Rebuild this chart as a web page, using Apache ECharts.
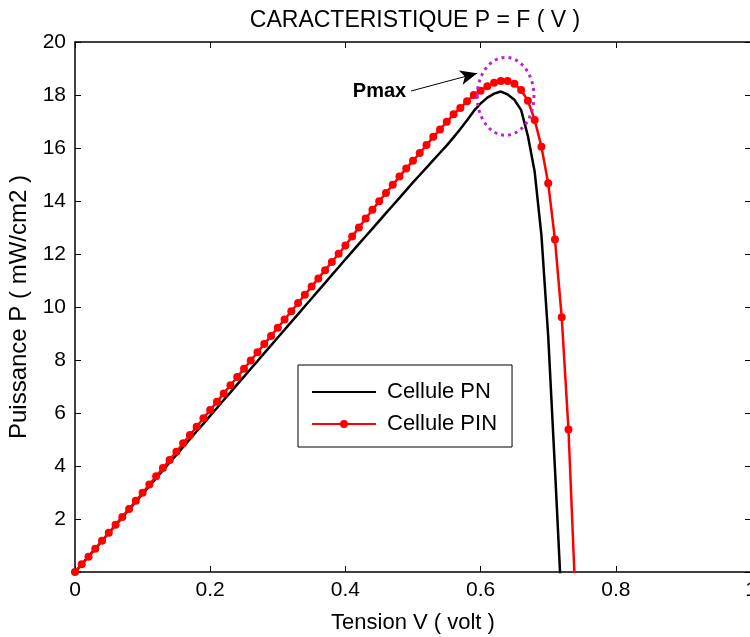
<!DOCTYPE html>
<html>
<head>
<meta charset="utf-8">
<script src="https://cdn.jsdelivr.net/npm/echarts@6/dist/echarts.min.js"></script>
<style>
  html, body { margin: 0; padding: 0; background: #fff; }
  #main { width: 750px; height: 637px; }
</style>
</head>
<body>
<div id="main"></div>
<script>
// Tension (V), pas de 0.01 V
const tension = [
  0.00, 0.01, 0.02, 0.03, 0.04, 0.05, 0.06, 0.07, 0.08, 0.09,
  0.10, 0.11, 0.12, 0.13, 0.14, 0.15, 0.16, 0.17, 0.18, 0.19,
  0.20, 0.21, 0.22, 0.23, 0.24, 0.25, 0.26, 0.27, 0.28, 0.29,
  0.30, 0.31, 0.32, 0.33, 0.34, 0.35, 0.36, 0.37, 0.38, 0.39,
  0.40, 0.41, 0.42, 0.43, 0.44, 0.45, 0.46, 0.47, 0.48, 0.49,
  0.50, 0.51, 0.52, 0.53, 0.54, 0.55, 0.56, 0.57, 0.58, 0.59,
  0.60, 0.61, 0.62, 0.63, 0.64, 0.65, 0.66, 0.67, 0.68, 0.69,
  0.70, 0.71, 0.72, 0.73, 0.74
];

// Puissance cellule PN (mW/cm2)
const puissancePN = [
  0, 0.29, 0.59, 0.88, 1.18, 1.47, 1.77, 2.06, 2.36, 2.65,
  2.95, 3.24, 3.54, 3.83, 4.13, 4.42, 4.72, 5.01, 5.31, 5.60,
  5.90, 6.19, 6.49, 6.78, 7.08, 7.37, 7.67, 7.96, 8.26, 8.55,
  8.85, 9.14, 9.44, 9.73, 10.03, 10.32, 10.62, 10.91, 11.21, 11.50,
  11.80, 12.09, 12.38, 12.67, 12.96, 13.25, 13.54, 13.83, 14.12, 14.41,
  14.70, 14.98, 15.26, 15.54, 15.82, 16.10, 16.40, 16.72, 17.05, 17.40,
  17.68, 17.90, 18.05, 18.13, 18.02, 17.82, 17.43, 16.45, 15.10, 12.70,
  8.90, 3.90, -1.30
];

// Puissance cellule PIN (mW/cm2)
const puissancePIN = [
  0, 0.29, 0.58, 0.88, 1.18, 1.48, 1.78, 2.08, 2.38, 2.69,
  2.99, 3.30, 3.61, 3.92, 4.23, 4.54, 4.86, 5.17, 5.48, 5.80,
  6.11, 6.42, 6.74, 7.05, 7.36, 7.67, 7.98, 8.29, 8.60, 8.91,
  9.22, 9.53, 9.84, 10.15, 10.46, 10.77, 11.08, 11.39, 11.70, 12.01,
  12.32, 12.66, 13.00, 13.34, 13.67, 13.99, 14.30, 14.61, 14.92, 15.23,
  15.52, 15.81, 16.11, 16.42, 16.70, 16.99, 17.27, 17.51, 17.76, 18.00,
  18.16, 18.33, 18.46, 18.53, 18.53, 18.42, 18.19, 17.78, 17.06, 16.05,
  14.67, 12.55, 9.61, 5.38, -0.80
];

// annotation Pmax (coordonnées en unités des axes)
const pmaxEllipse = { cx: 0.637, cy: 17.95, rx: 0.042, ry: 1.47 };
const pmaxArrow = [[0.497, 18.15], [0.595, 18.82]];
const pmaxLabel = [0.49, 18.15];

const fontFamily = "Liberation Sans, Arial, sans-serif";

const pairs = (xs, ys) => ys.map((y, i) => [xs[i], y]);

const chart = echarts.init(document.getElementById("main"));

const axisCommon = {
  type: "value",
  axisLine: { show: true, onZero: false, lineStyle: { color: "#000", width: 1.5 } },
  axisTick: { show: true, inside: true, length: 6, lineStyle: { color: "#000", width: 1 } },
  splitLine: { show: false },
};

const option = {
  animation: false,
  backgroundColor: "#fff",
  textStyle: { fontFamily: fontFamily },
  title: {
    text: "CARACTERISTIQUE P = F ( V )",
    left: 410,
    top: 4,
    textAlign: "center",
    textStyle: { fontSize: 23, fontWeight: "normal", color: "#000", fontFamily: fontFamily },
  },
  grid: { left: 75, top: 42, right: -1, bottom: 65, containLabel: false, outerBoundsMode: "none" },
  legend: {
    left: 298,
    top: 365,
    orient: "vertical",
    backgroundColor: "#fff",
    borderColor: "#000",
    borderWidth: 1,
    padding: [16, 15, 12, 13],
    itemWidth: 64,
    itemHeight: 10,
    itemGap: 10,
    textStyle: { fontSize: 22, color: "#000", fontFamily: fontFamily, padding: [0, 0, 0, 6] },
    data: [
      { name: "Cellule PN", itemStyle: { opacity: 0 } },
      { name: "Cellule PIN" },
    ],
  },
  xAxis: [
    Object.assign({}, axisCommon, {
      position: "bottom",
      min: 0,
      max: 1,
      interval: 0.2,
      name: "Tension V ( volt )",
      nameLocation: "middle",
      nameGap: 40,
      nameTextStyle: { fontSize: 22, color: "#000", fontFamily: fontFamily },
      axisLabel: { fontSize: 21, color: "#000", margin: 8, fontFamily: fontFamily },
    }),
    Object.assign({}, axisCommon, {
      position: "top",
      min: 0,
      max: 1,
      interval: 0.2,
      axisLabel: { show: false },
    }),
  ],
  yAxis: [
    Object.assign({}, axisCommon, {
      position: "left",
      min: 0,
      max: 20,
      interval: 2,
      name: "Puissance P ( mW/cm2 )",
      nameLocation: "middle",
      nameRotate: 90,
      nameGap: 41,
      nameTextStyle: { fontSize: 24, color: "#000", fontFamily: fontFamily },
      axisLabel: {
        fontSize: 21,
        color: "#000",
        margin: 9,
        fontFamily: fontFamily,
        formatter: (v) => (v === 0 ? "" : String(v)),
      },
    }),
    Object.assign({}, axisCommon, {
      position: "right",
      min: 0,
      max: 20,
      interval: 2,
      axisLabel: { show: false },
    }),
  ],
  series: [
    {
      name: "Cellule PN",
      type: "line",
      xAxisIndex: 0,
      yAxisIndex: 0,
      data: pairs(tension, puissancePN),
      symbol: "none",
      color: "#000",
      lineStyle: { color: "#000", width: 2.5 },
      clip: true,
      z: 2,
    },
    {
      name: "Cellule PIN",
      type: "line",
      xAxisIndex: 0,
      yAxisIndex: 0,
      data: pairs(tension, puissancePIN),
      symbol: "circle",
      symbolSize: 8,
      showSymbol: true,
      showAllSymbol: true,
      color: "#ff0000",
      itemStyle: { color: "#ff0000" },
      lineStyle: { color: "#ff0000", width: 2.5 },
      clip: true,
      z: 3,
      markLine: {
        silent: true,
        symbol: ["none", "arrow"],
        symbolSize: [11, 17],
        label: { show: false },
        lineStyle: { color: "#000", width: 1, type: "solid" },
        data: [[{ coord: pmaxArrow[0] }, { coord: pmaxArrow[1] }]],
      },
    },
  ],
};

chart.setOption(option);

// annotation : ellipse pointillée et texte Pmax
const c = chart.convertToPixel({ seriesIndex: 0 }, [pmaxEllipse.cx, pmaxEllipse.cy]);
const e = chart.convertToPixel({ seriesIndex: 0 }, [pmaxEllipse.cx + pmaxEllipse.rx, pmaxEllipse.cy + pmaxEllipse.ry]);
const t = chart.convertToPixel({ seriesIndex: 0 }, pmaxLabel);

chart.setOption({
  graphic: [
    {
      type: "ellipse",
      shape: { cx: c[0], cy: c[1], rx: e[0] - c[0], ry: c[1] - e[1] },
      style: { fill: null, stroke: "#c020d0", lineWidth: 3, lineDash: [3, 4] },
      z: 10,
    },
    {
      type: "text",
      x: t[0],
      y: t[1],
      style: {
        text: "Pmax",
        fill: "#000",
        font: "bold 20px " + fontFamily,
        align: "right",
        verticalAlign: "middle",
      },
      z: 10,
    },
  ],
});
</script>
</body>
</html>
